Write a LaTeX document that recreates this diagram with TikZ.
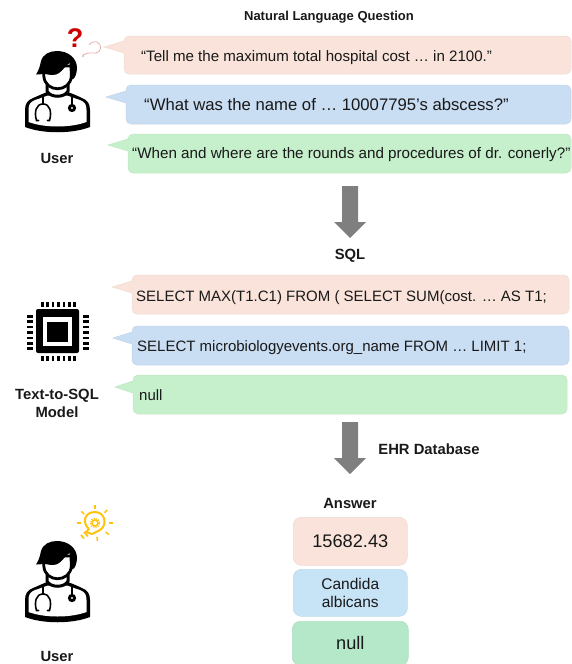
\documentclass[tikz,border=0pt]{standalone}
\usepackage{fontspec}
\setmainfont{Liberation Sans}
\definecolor{pk}{HTML}{F9E3DA}
\definecolor{bl}{HTML}{C9DDF3}
\definecolor{gr}{HTML}{C6F0CB}
\definecolor{pkb}{HTML}{F9E3DA}
\definecolor{blb}{HTML}{C7E3F6}
\definecolor{grb}{HTML}{B4E8C8}
\definecolor{arrowg}{HTML}{7F7F7F}
\definecolor{bulb}{HTML}{FFC20E}
\definecolor{squig}{HTML}{E8A5A5}
\tikzset{
 x=1pt,y=-1pt,
 title/.style={font=\fontsize{#1}{18}\selectfont\bfseries,text=black!90,align=center,inner sep=0pt},
 title/.default=14.8,
 bubtext/.style={font=\fontsize{#1}{18}\selectfont,text=black!90,inner sep=0pt,anchor=west},
 anstext/.style={font=\fontsize{18.2}{21}\selectfont,text=black!90,inner sep=0pt,align=center},
 ansbox/.style 2 args={draw=#1!92!gray,line width=.6pt,fill=#1,rounded corners=8pt,minimum width=#2,inner sep=0pt,anchor=north west},
}
% x0 y0 x1 y1 tipx tipy colour
\newcommand{\bubble}[7]{%
 \fill[draw=#7!92!gray,line width=.5pt,fill=#7]
  (#5,#6) -- (#1,#6-6) [rounded corners=5pt] -- (#1,#2) -- (#3,#2) -- (#3,#4) -- (#1,#4) [sharp corners] -- (#1,#6+6) -- cycle;}
\newcommand{\doctor}[2]{%
 \begin{scope}[shift={(#1,#2)}]
  % body: black silhouette, then white interior
  \fill[black] (25,127) -- (25,110) .. controls (25,103) and (28,100) .. (33,98) .. controls (38,96) and (42,94) .. (47,92) -- (68,92) .. controls (73,94) and (78,96) .. (82,98) .. controls (87,100) and (90,103) .. (90,110) -- (90,127) .. controls (72,134) and (43,134) .. (25,127) -- cycle;
  \fill[white] (28.5,122) -- (28.5,110) .. controls (28.5,105) and (30,102) .. (35,100) .. controls (39,99) and (43,97) .. (48,95.5) -- (67,95.5) .. controls (72,97) and (76,99) .. (80,100) .. controls (85,102) and (86.5,105) .. (86.5,110) -- (86.5,122) .. controls (70,128) and (45,128) .. (28.5,122) -- cycle;
  % neck and collar
  \draw[line width=3pt,fill=white] (47,78) -- (47,91) .. controls (50,98) and (65,98) .. (68,91) -- (68,78);
  % face
  \draw[line width=2.8pt,fill=white] (43.8,66) -- (43.8,76) .. controls (45,93) and (70,93) .. (71.5,76) -- (71.5,66) -- cycle;
  % hair
  \fill[black] (36,74.5) .. controls (39,70) and (40,66) .. (41,61) .. controls (43,54) and (50,51) .. (57,51) .. controls (68,51) and (77,58) .. (77,68) .. controls (77,73) and (75,78) .. (73,79) -- (70,79) -- (69.5,63) .. controls (65,65) and (63,72) .. (56,74.5) .. controls (52,75.5) and (48,74.5) .. (45,74) -- cycle;
  % stethoscope
  \draw[line width=1.6pt,line cap=round] (43,97) -- (43,104) (72,97) -- (72,104);
  \draw[line width=1.6pt,line cap=round] (38.5,120.5) -- (36.5,120.5) .. controls (34,112) and (36,104) .. (43,104) .. controls (50,104) and (52,112) .. (49.5,120.5) -- (47.5,120.5);
  \filldraw[line width=1.4pt,fill=black,draw=black] (72,108) circle (3.4pt);
  \fill[white] (72,108) circle (1.1pt);
 \end{scope}}
\begin{document}
\begin{tikzpicture}
\useasboundingbox (0,0) rectangle (571,664);
% bubbles
\bubble{124}{36}{571}{74}{104}{47}{pk}
\bubble{126}{85}{571}{124}{106}{97}{bl}
\bubble{128}{134}{571}{173}{108}{145}{gr}
\bubble{132}{275}{569}{314}{112}{287}{pk}
\bubble{132}{326}{569}{365}{113}{338}{bl}
\bubble{133}{375}{567}{414}{115}{387}{gr}
\node[title=13] (t1) at (329,17) {Natural Language Question};
\node[bubtext=15.1] (q1) at (141,57.5) {“Tell me the maximum total hospital cost … in 2100.”};
\node[bubtext=16.7] (q2) at (144,105) {“What was the name of … 10007795's abscess?”};
\node[bubtext=15.2] (q3) at (132,155) {“When and where are the rounds and procedures of dr. conerly?”};
\node[title=14.8] (t2) at (350,256) {SQL};
\node[bubtext=15] (s1) at (136,297.5) {SELECT MAX(T1.C1) FROM ( SELECT SUM(cost. … AS T1;};
\node[bubtext=15] (s2) at (137,347.5) {SELECT microbiologyevents.org\_name FROM … LIMIT 1;};
\node[bubtext=15] (s3) at (139,395) {null};
\node[title=14.8] (t3) at (429,449) {EHR Database};
\node[title=14.8] (t4) at (350,503) {Answer};
% arrows
\fill[arrowg] (342,186) -- (358,186) -- (358,222) -- (366,222) -- (350,238) -- (334,222) -- (342,222) -- cycle;
\fill[arrowg] (342,422) -- (358,422) -- (358,458) -- (366,458) -- (350,474) -- (334,458) -- (342,458) -- cycle;
% answers
\node[ansbox={pkb}{114pt},minimum height=48pt] (a1) at (293,517) {};
\node[anstext] at (a1) {15682.43};
\node[ansbox={blb}{114pt},minimum height=47pt] (a2) at (293,569) {};
\node[anstext,font=\fontsize{15.5}{18}\selectfont] at (a2) {Candida\\albicans};
\node[ansbox={grb}{116pt},minimum height=44pt] (a3) at (292,621) {};
\node[anstext] at (a3) {null};
% users
\doctor{0}{0}
\doctor{0}{490}
\node[title=14.8] (u1) at (57,158) {User};
\node[title=14.8] (u2) at (57,656) {User};
% question mark
\node[font=\fontsize{27}{27}\selectfont\bfseries,text=red!80!black,inner sep=0pt] (qm) at (75,38) {?};
\draw[squig,line width=.7pt] (83,55) .. controls (88,52) and (92,53) .. (96,53) .. controls (102,52) and (102,44) .. (97,42) .. controls (94,41) and (90,43) .. (89,45);
\fill[red!70!black] (83,56) circle (.7pt);
% chip
\fill[black,rounded corners=2pt] (36,309) rectangle (79,353);
\fill[white] (43,317) rectangle (72,346);
\fill[black] (47,322) rectangle (68,342);
\foreach \i in {0,...,6}{
 \fill[black] ({41+\i*5.4},302) rectangle ++(2.6,5);
 \fill[black] ({41+\i*5.4},356) rectangle ++(2.6,5);
 \fill[black] (27,{315+\i*5.4}) rectangle ++(5.5,2.6);
 \fill[black] (83,{315+\i*5.4}) rectangle ++(5.5,2.6);
}
\node[title=14.8] (m) at (57,403) {Text-to-SQL\\Model};
% bulb
\begin{scope}[shift={(95,523)}]
 \draw[bulb,line width=2pt,line join=round] (-6,6) .. controls (-13,0) and (-11,-11) .. (0,-11) .. controls (10,-11) and (13,2) .. (5,7) -- (-3,11) -- (-9,9) -- cycle;
 \draw[bulb,line width=1.6pt] (0,0) circle (3pt);
 \draw[bulb,line width=1.2pt,dash pattern=on 1.2pt off 1.2pt] (0,0) circle (4.6pt);
 \foreach \a in {-90,-47,0,40,82,180,-140}{\draw[bulb,line width=1.5pt] (\a:14) -- (\a:18);}
 \draw[bulb,line width=1.7pt] (-11,9) -- (-7,13.5) (-14,12) -- (-11,15.5);
\end{scope}
\end{tikzpicture}
\end{document}
